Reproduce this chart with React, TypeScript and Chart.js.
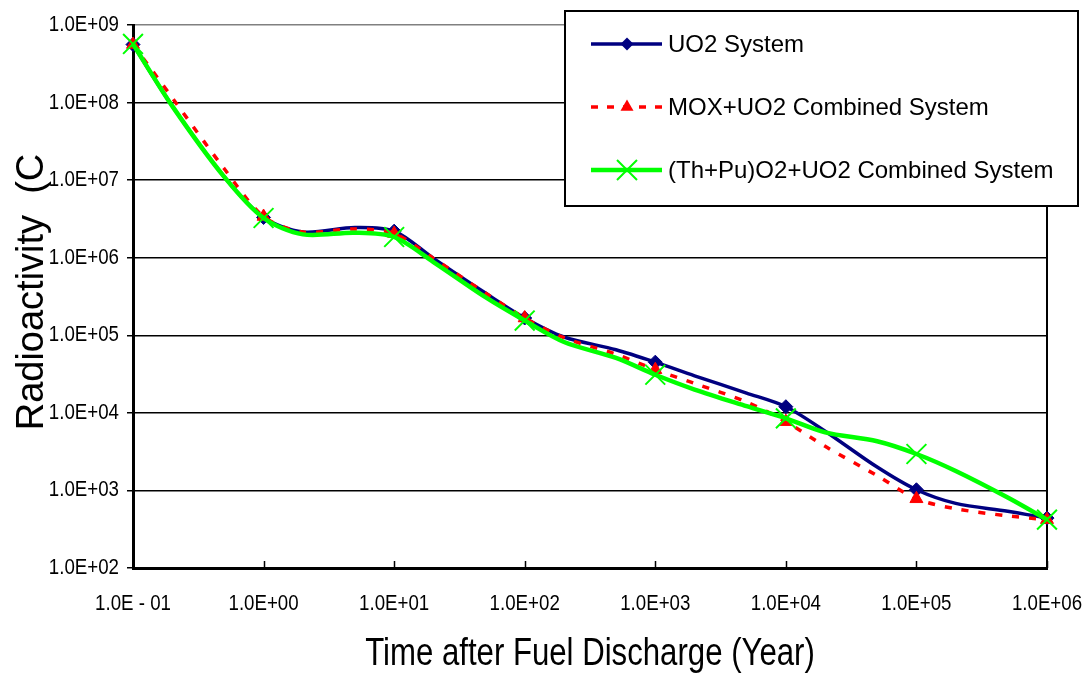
import React, { useEffect, useRef } from 'react';
import { Chart, registerables } from 'chart.js';

Chart.register(...registerables);

// ---- data ----
const years = [0.1, 0.2, 0.5, 1, 2, 5, 10, 20, 50, 100, 200, 500, 1e3, 2e3, 5e3, 1e4, 2e4, 5e4, 1e5, 2e5, 5e5, 1e6];
const markerYears = [0.1, 1, 10, 100, 1e3, 1e4, 1e5, 1e6];

const uo2Values = [5.6e8, 9.0e7, 1.1e7, 3.3e6, 2.15e6, 2.45e6, 2.2e6, 9.8e5, 3.5e5, 1.67e5, 9.5e4, 6.5e4, 4.5e4, 3.0e4, 1.8e4, 1.2e4, 5.8e3, 2.0e3, 1.02e3, 6.8e2, 5.4e2, 4.4e2];
const moxValues = [5.6e8, 1.15e8, 1.4e7, 3.4e6, 2.15e6, 2.35e6, 2.05e6, 9.8e5, 3.5e5, 1.67e5, 9.3e4, 5.7e4, 3.6e4, 2.4e4, 1.38e4, 7.7e3, 3.7e3, 1.55e3, 7.8e2, 5.8e2, 4.7e2, 4.2e2];
const thpuValues = [5.7e8, 9.0e7, 1.1e7, 3.25e6, 2.0e6, 2.1e6, 1.85e6, 8.8e5, 3.1e5, 1.55e5, 8.2e4, 5.1e4, 3.1e4, 2.0e4, 1.22e4, 8.5e3, 5.6e3, 4.3e3, 2.95e3, 1.78e3, 8.1e2, 4.2e2];

const seriesNames = ['UO2 System', 'MOX+UO2 Combined System', '(Th+Pu)O2+UO2 Combined System'];

const xTickValues = [0.1, 1, 10, 100, 1e3, 1e4, 1e5, 1e6];
const xTickLabels = ['1.0E - 01', '1.0E+00', '1.0E+01', '1.0E+02', '1.0E+03', '1.0E+04', '1.0E+05', '1.0E+06'];
const yTickValues = [1e2, 1e3, 1e4, 1e5, 1e6, 1e7, 1e8, 1e9];
const yTickLabels = ['1.0E+02', '1.0E+03', '1.0E+04', '1.0E+05', '1.0E+06', '1.0E+07', '1.0E+08', '1.0E+09'];

const xTitle = 'Time after Fuel Discharge (Year)';
const yTitle = 'Radioactivity  (C';

// ---- styles ----
const NAVY = '#000080';
const RED = '#FF0000';
const GREEN = '#00FF00';
const SANS = '"Liberation Sans", Arial, sans-serif';

const isMarker = (x: number) => markerYears.indexOf(x) >= 0;

function narrowText(ctx: CanvasRenderingContext2D, text: string, x: number, y: number, size: number, sx: number, align: CanvasTextAlign, baseline: CanvasTextBaseline) {
  ctx.save();
  ctx.translate(x, y);
  ctx.scale(sx, 1);
  ctx.font = `${size}px ${SANS}`;
  ctx.fillStyle = '#000';
  ctx.textAlign = align;
  ctx.textBaseline = baseline;
  ctx.fillText(text, 0, 0);
  ctx.restore();
}

function drawMarker(ctx: CanvasRenderingContext2D, kind: string, x: number, y: number, color: string) {
  ctx.save();
  ctx.setLineDash([]);
  ctx.fillStyle = color;
  ctx.strokeStyle = color;
  ctx.beginPath();
  if (kind === 'diamond') {
    const r = 6.5;
    ctx.moveTo(x - r, y);
    ctx.lineTo(x, y - r);
    ctx.lineTo(x + r, y);
    ctx.lineTo(x, y + r);
    ctx.closePath();
    ctx.fill();
  } else if (kind === 'triangle') {
    const r = 7.5;
    ctx.moveTo(x, y - r);
    ctx.lineTo(x + r * 0.866, y + r / 2);
    ctx.lineTo(x - r * 0.866, y + r / 2);
    ctx.closePath();
    ctx.fill();
  } else {
    const h = 10;
    ctx.lineWidth = 2;
    ctx.moveTo(x - h, y - h);
    ctx.lineTo(x + h, y + h);
    ctx.moveTo(x + h, y - h);
    ctx.lineTo(x - h, y + h);
    ctx.stroke();
  }
  ctx.restore();
}

const decorPlugin = {
  id: 'decor',
  beforeDatasetsDraw(chart: any) {
    const { ctx, chartArea: a, scales } = chart;
    ctx.save();
    ctx.strokeStyle = '#000';
    ctx.lineWidth = 2;
    ctx.beginPath();
    ctx.moveTo(a.right, a.top);
    ctx.lineTo(a.right, a.bottom);
    ctx.stroke();
    ctx.lineWidth = 1.5;
    ctx.beginPath();
    xTickValues.forEach((v) => {
      const px = Math.round(scales.x.getPixelForValue(v)) + 0.5;
      ctx.moveTo(px, a.bottom);
      ctx.lineTo(px, a.bottom - 7);
    });
    ctx.stroke();
    ctx.restore();
  },
  afterDraw(chart: any) {
    const { ctx, chartArea: a, scales } = chart;
    ctx.save();

    // tick labels (narrow face emulated by horizontal scaling)
    yTickValues.forEach((v, i) => {
      narrowText(ctx, yTickLabels[i], a.left - 14, scales.y.getPixelForValue(v), 22, 0.85, 'right', 'middle');
    });
    xTickValues.forEach((v, i) => {
      narrowText(ctx, xTickLabels[i], scales.x.getPixelForValue(v), a.bottom + 36, 22, 0.85, 'center', 'middle');
    });

    // axis titles
    narrowText(ctx, xTitle, 590, 665, 38, 0.82, 'center', 'alphabetic');

    ctx.save();
    ctx.translate(43, 292);
    ctx.rotate(-Math.PI / 2);
    ctx.font = `38px ${SANS}`;
    ctx.fillStyle = '#000';
    ctx.textAlign = 'center';
    ctx.textBaseline = 'alphabetic';
    ctx.fillText(yTitle, 0, 0);
    ctx.restore();

    // legend
    const bx = 565, by = 11, bw = 513, bh = 195;
    ctx.fillStyle = '#fff';
    ctx.fillRect(bx, by, bw, bh);
    ctx.strokeStyle = '#000';
    ctx.lineWidth = 2;
    ctx.strokeRect(bx, by, bw, bh);

    const rows = [
      { color: NAVY, width: 3.5, dash: [] as number[], marker: 'diamond', y: 44 },
      { color: RED, width: 3.5, dash: [7, 9], marker: 'triangle', y: 107 },
      { color: GREEN, width: 4.5, dash: [] as number[], marker: 'cross', y: 170 },
    ];
    rows.forEach((r, i) => {
      ctx.save();
      ctx.strokeStyle = r.color;
      ctx.lineWidth = r.width;
      ctx.setLineDash(r.dash);
      ctx.beginPath();
      ctx.moveTo(591, r.y);
      ctx.lineTo(662, r.y);
      ctx.stroke();
      ctx.restore();
      drawMarker(ctx, r.marker, 627, r.y, r.color);
      ctx.fillStyle = '#000';
      ctx.font = `24px ${SANS}`;
      ctx.textAlign = 'left';
      ctx.textBaseline = 'middle';
      ctx.fillText(seriesNames[i], 668, r.y + 1);
    });
    ctx.restore();
  },
};

function makeData(vals: number[]) {
  return years.map((x, i) => ({ x, y: vals[i] }));
}

export default function App() {
  const ref = useRef<HTMLCanvasElement | null>(null);

  useEffect(() => {
    if (!ref.current) return;
    const chart = new Chart(ref.current, {
      type: 'line',
      data: {
        datasets: [
          {
            label: seriesNames[0],
            data: makeData(uo2Values),
            borderColor: NAVY,
            backgroundColor: NAVY,
            borderWidth: 3.5,
            pointStyle: 'rectRot',
            pointRadius: years.map((x) => (isMarker(x) ? 7 : 0)),
            pointBorderWidth: 1,
            pointBorderColor: NAVY,
            pointBackgroundColor: NAVY,
            tension: 0.3,
            fill: false,
            clip: false,
            order: 2,
          } as any,
          {
            label: seriesNames[1],
            data: makeData(moxValues),
            borderColor: RED,
            backgroundColor: RED,
            borderWidth: 3.5,
            borderDash: [7, 10],
            pointStyle: 'triangle',
            pointRadius: years.map((x) => (isMarker(x) ? 7.5 : 0)),
            pointBorderWidth: 1,
            pointBorderColor: RED,
            pointBackgroundColor: RED,
            tension: 0.3,
            fill: false,
            clip: false,
            order: 1,
          } as any,
          {
            label: seriesNames[2],
            data: makeData(thpuValues),
            borderColor: GREEN,
            backgroundColor: GREEN,
            borderWidth: 4.5,
            pointStyle: 'crossRot',
            pointRadius: years.map((x) => (isMarker(x) ? 14 : 0)),
            pointBorderWidth: 2,
            pointBorderColor: GREEN,
            pointBackgroundColor: GREEN,
            tension: 0.3,
            fill: false,
            clip: false,
            order: 0,
          } as any,
        ],
      },
      options: {
        animation: false,
        responsive: false,
        maintainAspectRatio: false,
        layout: { padding: { top: 25, right: 41, left: 0, bottom: 0 } },
        plugins: {
          legend: { display: false },
          tooltip: { enabled: false },
          title: { display: false },
        },
        scales: {
          x: {
            type: 'logarithmic',
            min: 0.1,
            max: 1e6,
            afterBuildTicks: (s: any) => {
              s.ticks = xTickValues.map((v) => ({ value: v }));
            },
            afterFit: (s: any) => {
              s.height = 677 - 568;
            },
            ticks: { display: false },
            grid: { display: false, drawTicks: false, drawOnChartArea: false },
            border: { display: true, color: '#000', width: 3 },
          },
          y: {
            type: 'logarithmic',
            min: 1e2,
            max: 1e9,
            afterBuildTicks: (s: any) => {
              s.ticks = yTickValues.map((v) => ({ value: v }));
            },
            afterFit: (s: any) => {
              s.width = 133;
            },
            ticks: { display: false },
            grid: {
              color: (c: any) => (c.tick && c.tick.value === 1e9 ? '#808080' : '#000'),
              lineWidth: 1.5,
              drawTicks: true,
              tickLength: 6,
              tickColor: '#000',
            },
            border: { display: true, color: '#000', width: 3 },
          },
        },
      } as any,
      plugins: [decorPlugin],
    });
    return () => chart.destroy();
  }, []);

  return (
    <div style={{ position: 'fixed', left: 0, top: 0, width: 1088, height: 677, background: '#fff' }}>
      <canvas ref={ref} width={1088} height={677} style={{ display: 'block', width: 1088, height: 677 }} />
    </div>
  );
}
